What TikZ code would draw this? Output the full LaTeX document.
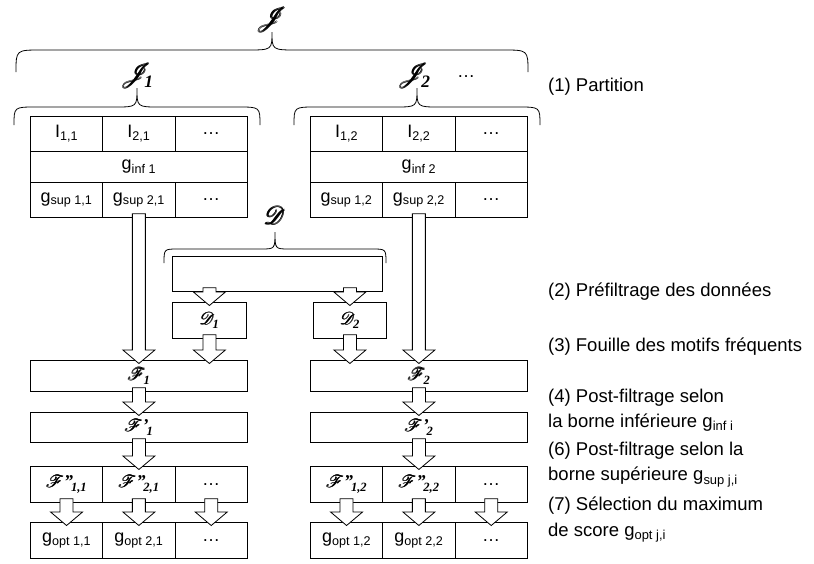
\documentclass[tikz,border=0pt]{standalone}
\usepackage{amsmath}
\usepackage{mathrsfs}
\usepackage{fontspec}
\setmainfont{Liberation Sans}
\newfontfamily\subfont{Liberation Serif}
\usetikzlibrary{calc}

\newcommand{\cellfont}{\fontsize{18}{21}\selectfont}
\newcommand{\notefont}{\fontsize{18.5}{25.5}\selectfont}
\newcommand{\sub}[1]{\textsubscript{#1}}
\newcommand{\scr}[1]{$\pmb{\mathscr{#1}}$}
\newcommand{\scrsub}[1]{\kern-0.12em\raisebox{-0.45ex}{\subfont\bfseries\itshape\fontsize{0.7em}{1em}\selectfont #1}}

% hollow block arrow, from #1 down to #2
\newcommand{\hollowarrow}[2]{%
  \draw[hollow] let \p1=#1, \p2=#2 in
    (\x1-6.5pt,\y1+4pt) -- (\x1-6.5pt,\y2+10pt) -- (\x1-16pt,\y2+10pt) -- (\x1,\y2-3.5pt)
    -- (\x1+16pt,\y2+10pt) -- (\x1+6.5pt,\y2+10pt) -- (\x1+6.5pt,\y1+4pt) -- cycle;}

% curly brace: left x, right x, end y, bar y, tip y, corner
\newcommand{\curly}[6]{%
  \pgfmathsetmacro\cxm{(#1+#2)/2}
  \draw[line width=0.8pt] (#1,#3) .. controls (#1,#4) .. (#1+#6,#4) -- (\cxm-#6,#4)
    .. controls (\cxm,#4) .. (\cxm,#5) .. controls (\cxm,#4) .. (\cxm+#6,#4)
    -- (#2-#6,#4) .. controls (#2,#4) .. (#2,#3);}

\tikzset{
  cell/.style={draw, line width=0.8pt, anchor=north west, inner sep=0pt,
    minimum width=72.33pt, minimum height=35pt, font=\cellfont},
  wide/.style={cell, minimum width=217pt},
  bigscr/.style={inner sep=0pt, font=\fontsize{24.88}{28}\selectfont},
  note/.style={anchor=west, align=left, inner sep=0pt, font=\notefont},
  hollow/.style={draw, fill=white, line width=0.8pt},
}

\begin{document}
\begin{tikzpicture}[x=1pt,y=-1pt]
  \useasboundingbox (0,0) rectangle (814,563);

  % partition
  \node[bigscr] (J) at (272,20) {\scr{J}};
  \curly{16}{528}{72}{50}{32}{25}
  \node[bigscr] (J1) at (137,76) {\scr{J}\kern-0.18em\scrsub{1}};
  \node[bigscr] (J2) at (414,76) {\scr{J}\kern-0.18em\scrsub{2}};
  \node[font=\cellfont, inner sep=0pt] (Jmore) at (466,77) {…};
  \curly{14}{260}{125}{107}{88}{22}
  \curly{294}{540}{125}{107}{88}{22}

  % block 1
  \node[cell] (I11) at (30,116) {I\sub{1,1}};
  \node[cell] (I21) at (102.33,116) {I\sub{2,1}};
  \node[cell] (Id1) at (174.67,116) {…};
  \node[wide, minimum height=31pt] (ginf1) at (30,151) {g\sub{inf 1}};
  \node[cell] (gsup11) at (30,182) {g\sub{sup 1,1}};
  \node[cell] (gsup21) at (102.33,182) {g\sub{sup 2,1}};
  \node[cell] (gsupd1) at (174.67,182) {…};

  % block 2
  \node[cell] (I12) at (310,116) {I\sub{1,2}};
  \node[cell] (I22) at (382.33,116) {I\sub{2,2}};
  \node[cell] (Id2) at (454.67,116) {…};
  \node[wide, minimum height=31pt] (ginf2) at (310,151) {g\sub{inf 2}};
  \node[cell] (gsup12) at (310,182) {g\sub{sup 1,2}};
  \node[cell] (gsup22) at (382.33,182) {g\sub{sup 2,2}};
  \node[cell] (gsupd2) at (454.67,182) {…};

  % data set D
  \node[bigscr] (D) at (275,215) {\scr{D}};
  \curly{164}{386}{263}{249}{232}{14}
  \node[cell, minimum width=210pt] (Dset) at (172,256) {};
  \node[cell, minimum width=74pt, minimum height=36pt] (D1) at (172,302) {\scr{D}\scrsub{1}};
  \node[cell, minimum width=73pt, minimum height=36pt] (D2) at (313,302) {\scr{D}\scrsub{2}};

  % mining and filtering, left
  \node[wide, minimum height=31pt] (F1) at (30,360) {\scr{F}\scrsub{1}};
  \node[wide, minimum height=30pt] (Fp1) at (30,412) {\scr{F}{\subfont\bfseries\itshape ’}\scrsub{1}};
  \node[cell, minimum height=36pt] (Fpp11) at (30,466) {\scr{F}{\subfont\bfseries\itshape ”}\scrsub{1,1}};
  \node[cell, minimum height=36pt] (Fpp21) at (102.33,466) {\scr{F}{\subfont\bfseries\itshape ”}\scrsub{2,1}};
  \node[cell, minimum height=36pt] (Fppd1) at (174.67,466) {…};
  \node[cell, minimum height=36pt] (gopt11) at (30,522) {g\sub{opt 1,1}};
  \node[cell, minimum height=36pt] (gopt21) at (102.33,522) {g\sub{opt 2,1}};
  \node[cell, minimum height=36pt] (goptd1) at (174.67,522) {…};

  % mining and filtering, right
  \node[wide, minimum height=31pt] (F2) at (310,360) {\scr{F}\scrsub{2}};
  \node[wide, minimum height=30pt] (Fp2) at (310,412) {\scr{F}{\subfont\bfseries\itshape ’}\scrsub{2}};
  \node[cell, minimum height=36pt] (Fpp12) at (310,466) {\scr{F}{\subfont\bfseries\itshape ”}\scrsub{1,2}};
  \node[cell, minimum height=36pt] (Fpp22) at (382.33,466) {\scr{F}{\subfont\bfseries\itshape ”}\scrsub{2,2}};
  \node[cell, minimum height=36pt] (Fppd2) at (454.67,466) {…};
  \node[cell, minimum height=36pt] (gopt12) at (310,522) {g\sub{opt 1,2}};
  \node[cell, minimum height=36pt] (gopt22) at (382.33,522) {g\sub{opt 2,2}};
  \node[cell, minimum height=36pt] (goptd2) at (454.67,522) {…};

  % arrows
  \hollowarrow{(gsup21.south)}{(F1.north)}
  \hollowarrow{(gsup22.south)}{(F2.north)}
  \hollowarrow{(D1.north |- Dset.south)}{(D1.north)}
  \hollowarrow{(D2.north |- Dset.south)}{(D2.north)}
  \hollowarrow{(D1.south)}{(F1.north)}
  \hollowarrow{(D2.south)}{(F2.north)}
  \hollowarrow{(F1.south)}{(Fp1.north)}
  \hollowarrow{(F2.south)}{(Fp2.north)}
  \hollowarrow{(Fp1.south)}{(Fpp21.north)}
  \hollowarrow{(Fp2.south)}{(Fpp22.north)}
  \hollowarrow{(Fpp11.south)}{(gopt11.north)}
  \hollowarrow{(Fpp21.south)}{(gopt21.north)}
  \hollowarrow{(Fppd1.south)}{(goptd1.north)}
  \hollowarrow{(Fpp12.south)}{(gopt12.north)}
  \hollowarrow{(Fpp22.south)}{(gopt22.north)}
  \hollowarrow{(Fppd2.south)}{(goptd2.north)}

  % steps
  \node[note] (lab1) at (548,87) {(1) Partition};
  \node[note] (lab2) at (548,292) {(2) Préfiltrage des données};
  \node[note] (lab3) at (548,347) {(3) Fouille des motifs fréquents};
  \node[note] (lab4) at (548,410) {(4) Post-filtrage selon\\la borne inférieure g\sub{inf i}};
  \node[note] (lab6) at (548,464.5) {(6) Post-filtrage selon la\\borne supérieure g\sub{sup j,i}};
  \node[note] (lab7) at (548,519.5) {(7) Sélection du maximum\\de score g\sub{opt j,i}};
\end{tikzpicture}
\end{document}
